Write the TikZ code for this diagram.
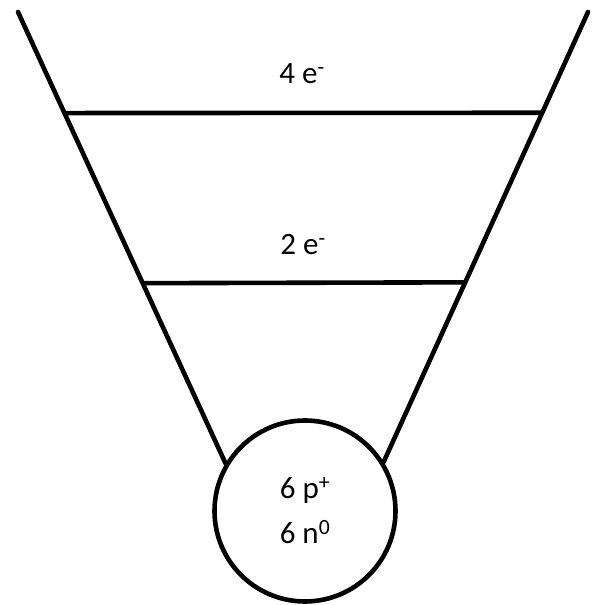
\documentclass[tikz,border=0pt]{standalone}
\usepackage{fontspec}
\setmainfont{Carlito}
\usetikzlibrary{calc}

\begin{document}
\begin{tikzpicture}[x=1pt, y=1pt,
    % Styles
    wall/.style={line width=4.6pt, line cap=round},
    shell/.style={line width=4.6pt},
    nucleus/.style={draw, circle, line width=4.6pt, minimum size=181pt, inner sep=0pt,
                    align=center, font=\fontsize{31}{45}\selectfont},
    lbl/.style={font=\fontsize{31}{36}\selectfont, inner sep=0pt}
  ]
    \useasboundingbox (0,0) rectangle (598,605);

    % === Nucleus ===
    \node[nucleus] (core) at (305,94) {6 p\textsuperscript{+}\\6 n\textsuperscript{0}};

    % === Funnel walls ===
    \coordinate (ltop) at (18,593);
    \coordinate (rtop) at (588,593);
    \draw[wall] (ltop) -- (core.149);
    \draw[wall] (rtop) -- (core.32);

    % === Shells ===
    \coordinate (outerL) at ($(ltop)!0.224!(core.149)$);
    \coordinate (outerR) at ($(rtop)!0.224!(core.32)$);
    \coordinate (innerL) at ($(ltop)!0.601!(core.149)$);
    \coordinate (innerR) at ($(rtop)!0.601!(core.32)$);
    \draw[shell] (outerL) -- (outerR);
    \draw[shell] (innerL) -- (innerR);

    % === Electron counts ===
    \node[lbl] (outerlbl) at (302,531) {4 e\textsuperscript{-}};
    \node[lbl] (innerlbl) at (303,360) {2 e\textsuperscript{-}};
  \end{tikzpicture}
\end{document}
